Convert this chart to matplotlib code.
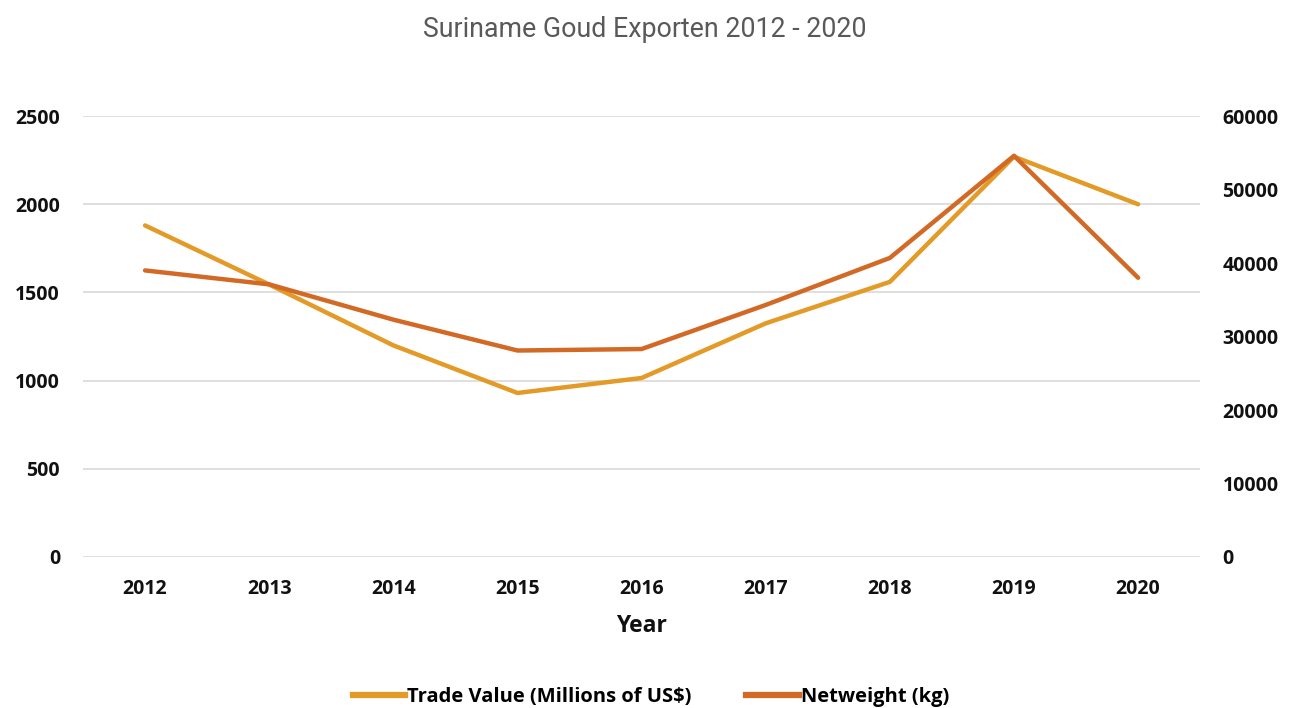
import matplotlib.pyplot as plt
from matplotlib.lines import Line2D

# Suriname gold exports
years = ['2012', '2013', '2014', '2015', '2016', '2017', '2018', '2019', '2020']
trade_value = [1880, 1545, 1200, 930, 1015, 1325, 1560, 2270, 2000]
netweight = [39000, 37100, 32300, 28100, 28300, 34300, 40700, 54600, 38000]

yellow = '#E39A27'
red = '#D26A25'
label_font = 'Open Sans'

fig = plt.figure(figsize=(12.89, 7.08), dpi=100)
ax = fig.add_axes([0.0644, 0.2133, 0.8667, 0.6227])
ax2 = ax.twinx()

x = list(range(len(years)))
ax.plot(x, trade_value, color=yellow, lw=3.2, solid_capstyle='round', zorder=3)
ax2.plot(x, netweight, color=red, lw=3.2, solid_capstyle='round', zorder=3)

ax.set_xlim(-0.5, len(years) - 0.5)
ax.set_ylim(0, 2500)
ax2.set_ylim(0, 60000)
ax.set_yticks(range(0, 2501, 500))
ax2.set_yticks(range(0, 60001, 10000))
ax.set_xticks(x)
ax.set_xticklabels(years)

ax.grid(axis='y', color='#D9D9D9', lw=1.2)
ax.set_axisbelow(True)
for a in (ax, ax2):
    for s in a.spines.values():
        s.set_visible(False)
    a.tick_params(length=0)

for lab in ax.get_yticklabels() + ax.get_xticklabels() + ax2.get_yticklabels():
    lab.set_fontfamily(label_font)
    lab.set_fontweight('bold')
    lab.set_fontsize(14)
    lab.set_color('#111111')
ax.tick_params(axis='y', pad=16.5)
ax2.tick_params(axis='y', pad=16)
ax.tick_params(axis='x', pad=16)

ax.set_xlabel('Year', fontfamily=label_font, fontweight='bold', fontsize=16.5,
              color='#111111', labelpad=11)

fig.text(0.5, 0.958, 'Suriname Goud Exporten 2012 - 2020', ha='center', va='center',
         fontfamily='Roboto', fontsize=19.3, color='#595959')

handles = [Line2D([0], [0], color=yellow, lw=4.5),
           Line2D([0], [0], color=red, lw=4.5)]
leg = fig.legend(handles, ['Trade Value (Millions of US$)', 'Netweight (kg)'],
                 loc='center', bbox_to_anchor=(0.505, 0.016), ncol=2, frameon=False,
                 prop={'family': label_font, 'weight': 'bold', 'size': 14.5},
                 handlelength=2.6, handletextpad=0.1, columnspacing=2.7)

fig.savefig('out.png', dpi=100)
